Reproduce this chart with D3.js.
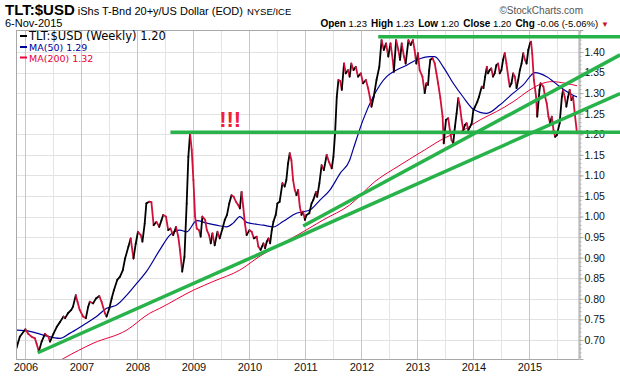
<!DOCTYPE html>
<html>
<head>
<meta charset="utf-8">
<script src="https://cdn.jsdelivr.net/npm/d3@7"></script>
<style>
  body { margin: 0; background: #fff; }
  svg { display: block; font-family: "Liberation Sans", Arial, sans-serif; }
</style>
</head>
<body>
<svg id="chart"></svg>
<script>
// weekly closes, decimal years
const weeks = [
  2005.84, 2005.90, 2006.00, 2006.05, 2006.11, 2006.17, 2006.20, 2006.24, 2006.29, 2006.35, 2006.41, 2006.44, 2006.50,
  2006.56, 2006.62, 2006.68, 2006.71, 2006.76, 2006.82, 2006.85, 2006.90, 2006.93, 2006.97,
  2007.03, 2007.08, 2007.12, 2007.15, 2007.21, 2007.26, 2007.32, 2007.36, 2007.42, 2007.45, 2007.50, 2007.54, 2007.58,
  2007.64, 2007.69, 2007.74, 2007.78, 2007.84, 2007.88, 2007.93, 2007.97,
  2008.01, 2008.06, 2008.09, 2008.13, 2008.16, 2008.21, 2008.25, 2008.29, 2008.34, 2008.39, 2008.43, 2008.46, 2008.51,
  2008.55, 2008.59, 2008.64, 2008.69, 2008.73, 2008.76, 2008.80, 2008.84, 2008.88, 2008.91, 2008.94, 2008.97,
  2009.00, 2009.03, 2009.06, 2009.10, 2009.13, 2009.16, 2009.21, 2009.24, 2009.28, 2009.31, 2009.34, 2009.38, 2009.43,
  2009.47, 2009.52, 2009.56, 2009.60, 2009.64, 2009.68, 2009.72, 2009.76, 2009.80, 2009.83, 2009.86, 2009.89, 2009.92, 2009.95,
  2010.00, 2010.04, 2010.08, 2010.13, 2010.16, 2010.20, 2010.25, 2010.28, 2010.31, 2010.34, 2010.37, 2010.40, 2010.43,
  2010.47, 2010.50, 2010.54, 2010.59, 2010.63, 2010.66, 2010.69, 2010.72, 2010.75, 2010.78, 2010.81, 2010.84, 2010.87,
  2010.90, 2010.93, 2010.96, 2010.99,
  2011.02, 2011.07, 2011.11, 2011.14, 2011.19, 2011.21, 2011.25, 2011.29, 2011.33, 2011.38, 2011.42, 2011.47, 2011.50,
  2011.53, 2011.56, 2011.59, 2011.62, 2011.65, 2011.69, 2011.72, 2011.76, 2011.79, 2011.82, 2011.86, 2011.90, 2011.94, 2011.99,
  2012.03, 2012.08, 2012.12, 2012.15, 2012.18, 2012.22, 2012.27, 2012.32, 2012.36, 2012.40, 2012.44, 2012.48, 2012.52,
  2012.56, 2012.58, 2012.62, 2012.66, 2012.69, 2012.72, 2012.76, 2012.79, 2012.84, 2012.88, 2012.92, 2012.95, 2012.98,
  2013.01, 2013.04, 2013.09, 2013.13, 2013.16, 2013.19, 2013.21, 2013.23, 2013.27, 2013.31, 2013.34, 2013.37, 2013.41,
  2013.45, 2013.47, 2013.51, 2013.55, 2013.58, 2013.61, 2013.64, 2013.67, 2013.70, 2013.73, 2013.76, 2013.79, 2013.82,
  2013.85, 2013.88, 2013.91, 2013.94, 2013.97,
  2014.00, 2014.03, 2014.07, 2014.10, 2014.15, 2014.18, 2014.21, 2014.24, 2014.26, 2014.29, 2014.32, 2014.35, 2014.38,
  2014.41, 2014.44, 2014.47, 2014.50, 2014.53, 2014.56, 2014.59, 2014.63, 2014.65, 2014.68, 2014.71, 2014.74, 2014.77,
  2014.80, 2014.83, 2014.86, 2014.89, 2014.92, 2014.95, 2014.98,
  2015.01, 2015.03, 2015.05, 2015.08, 2015.12, 2015.14, 2015.18, 2015.20, 2015.25, 2015.28, 2015.31, 2015.34, 2015.37,
  2015.40, 2015.43, 2015.46, 2015.49, 2015.54, 2015.58, 2015.60, 2015.63, 2015.66, 2015.69, 2015.72, 2015.75, 2015.78,
  2015.81, 2015.85
];
const closes = [
  0.680, 0.708, 0.726, 0.715, 0.708, 0.704, 0.691, 0.672, 0.696, 0.715, 0.708, 0.696, 0.715,
  0.732, 0.744, 0.757, 0.753, 0.765, 0.773, 0.781, 0.809, 0.793, 0.773,
  0.757, 0.753, 0.780, 0.793, 0.789, 0.801, 0.807, 0.793, 0.765, 0.757, 0.777, 0.801, 0.821,
  0.846, 0.854, 0.870, 0.898, 0.927, 0.947, 0.898, 0.934,
  0.963, 0.955, 0.939, 0.983, 1.032, 1.036, 1.035, 0.979, 0.987, 0.975, 0.991, 1.004, 1.000,
  0.967, 0.971, 0.955, 0.975, 0.951, 0.919, 0.866, 0.902, 1.032, 1.145, 1.202, 1.162,
  1.089, 1.000, 0.971, 0.967, 0.951, 1.000, 0.992, 0.967, 0.955, 0.935, 0.959, 0.930, 0.963,
  0.947, 0.971, 0.992, 1.004, 1.032, 1.052, 1.048, 1.036, 1.028, 1.020, 1.060, 1.024, 0.983, 0.955,
  0.967, 0.963, 0.947, 0.951, 0.927, 0.919, 0.935, 0.923, 0.939, 0.947, 0.935, 0.967, 0.988,
  1.004, 1.032, 1.036, 1.081, 1.073, 1.089, 1.129, 1.154, 1.137, 1.089, 1.065, 1.052, 1.065,
  1.024, 1.004, 1.012, 0.992,
  1.004, 1.008, 1.032, 1.040, 1.060, 1.048, 1.081, 1.125, 1.113, 1.150, 1.133, 1.117, 1.145,
  1.202, 1.291, 1.332, 1.330, 1.308, 1.372, 1.348, 1.356, 1.340, 1.372, 1.356, 1.364, 1.340, 1.348,
  1.324, 1.332, 1.312, 1.291, 1.267, 1.291, 1.332, 1.364, 1.429, 1.405, 1.421, 1.389, 1.421,
  1.381, 1.352, 1.429, 1.405, 1.381, 1.421, 1.389, 1.372, 1.429, 1.417, 1.429, 1.405, 1.372,
  1.397, 1.356, 1.340, 1.300, 1.324, 1.320, 1.356, 1.381, 1.385, 1.372, 1.348, 1.324, 1.288,
  1.243, 1.178, 1.235, 1.239, 1.210, 1.186, 1.178, 1.218, 1.251, 1.288, 1.267, 1.235, 1.210,
  1.223, 1.227, 1.210, 1.218, 1.227,
  1.259, 1.267, 1.279, 1.291, 1.316, 1.312, 1.340, 1.364, 1.348, 1.356, 1.360, 1.340, 1.348,
  1.368, 1.372, 1.348, 1.356, 1.381, 1.397, 1.372, 1.332, 1.316, 1.324, 1.348, 1.340, 1.312,
  1.332, 1.356, 1.372, 1.397, 1.381, 1.372, 1.405,
  1.421, 1.425, 1.397, 1.332, 1.291, 1.243, 1.308, 1.324, 1.316, 1.291, 1.275, 1.243, 1.227,
  1.243, 1.210, 1.194, 1.198, 1.227, 1.291, 1.308, 1.291, 1.267, 1.291, 1.308, 1.283, 1.291,
  1.251, 1.202
];

// moving averages as drawn on the chart
const ma50Weeks = [2005.84, 2006.08, 2006.32, 2006.62, 2006.79, 2007.03, 2007.27, 2007.45, 2007.63, 2007.81, 2007.99,
  2008.16, 2008.40, 2008.58, 2008.76, 2008.88, 2009.06, 2009.24, 2009.41, 2009.59, 2009.71, 2009.83, 2009.95,
  2010.25, 2010.43, 2010.60, 2010.84, 2011.08, 2011.26, 2011.44, 2011.62, 2011.79, 2011.85, 2012.03, 2012.21,
  2012.45, 2012.57, 2012.81, 2012.99, 2013.22, 2013.31, 2013.46, 2013.64, 2013.82, 2014.00, 2014.24, 2014.47,
  2014.71, 2014.89, 2015.10, 2015.31, 2015.54, 2015.78, 2015.85];
const ma50Values = [0.724, 0.721, 0.712, 0.704, 0.716, 0.736, 0.757, 0.777, 0.785, 0.809, 0.838,
  0.866, 0.919, 0.955, 0.967, 0.963, 0.990, 0.984, 0.979, 0.975, 0.984, 1.000, 0.986,
  0.979, 0.975, 0.988, 1.008, 1.016, 1.040, 1.065, 1.105, 1.137, 1.162, 1.235, 1.291,
  1.340, 1.352, 1.368, 1.381, 1.389, 1.389, 1.364, 1.324, 1.290, 1.261, 1.251, 1.271,
  1.300, 1.320, 1.350, 1.340, 1.316, 1.295, 1.291];

const ma200Weeks = [2006.55, 2006.68, 2007.21, 2007.81, 2008.22, 2008.40, 2009.00, 2009.35, 2009.83, 2010.19, 2010.54,
  2010.96, 2011.32, 2011.79, 2012.24, 2012.69, 2013.13, 2013.50, 2013.82, 2014.12, 2014.41, 2014.71, 2015.01,
  2015.24, 2015.40, 2015.64, 2015.85];
const ma200Values = [0.645, 0.655, 0.692, 0.724, 0.765, 0.777, 0.821, 0.842, 0.870, 0.904, 0.931,
  0.963, 0.992, 1.028, 1.085, 1.125, 1.162, 1.192, 1.210, 1.235, 1.255, 1.279, 1.308,
  1.324, 1.328, 1.324, 1.318];

// hand-drawn trend lines: [year, price] end points
const trendTop = [[2012.30, 1.437], [2016.62, 1.437]];
const trendFlat = [[2008.59, 1.205], [2016.62, 1.205]];
const trendLow = [[2006.22, 0.669], [2016.62, 1.299]];
const trendHigh = [[2010.96, 0.977], [2016.62, 1.393]];

const yearTicks = [2006, 2007, 2008, 2009, 2010, 2011, 2012, 2013, 2014, 2015];
const priceTicks = [0.70, 0.75, 0.80, 0.85, 0.90, 0.95, 1.00, 1.05, 1.10, 1.15, 1.20, 1.25, 1.30, 1.35, 1.40];
const legendLabels = ['TLT:$USD (Weekly) 1.20', 'MA(50) 1.29', 'MA(200) 1.32'];
const quote = [['Open', '1.23'], ['High', '1.23'], ['Low', '1.20'], ['Close', '1.20'], ['Chg', '-0.06 (-5.06%)']];

class TrendChart {
    constructor(_config) {
        this.config = {
            parentElement: _config.parentElement,
            containerWidth: 620,
            containerHeight: 376,
            margin: { top: 30, right: 41, bottom: 17, left: 17 }
        };
        this.initVis();
    }

    initVis() {
        let vis = this;

        vis.width = vis.config.containerWidth - vis.config.margin.left - vis.config.margin.right;
        vis.height = vis.config.containerHeight - vis.config.margin.top - vis.config.margin.bottom;

        // 56px per year, 1.40 sits 22px below the top
        vis.xScale = d3.scaleLinear()
            .domain([2005.85, 2005.85 + vis.width / 56])
            .range([0, vis.width]);

        vis.yScale = d3.scaleLinear()
            .domain([1.40 - (vis.height - 22) / 411.4, 1.40 + 22 / 411.4])
            .range([vis.height, 0]);

        vis.svg = d3.select(vis.config.parentElement)
            .attr('width', vis.config.containerWidth)
            .attr('height', vis.config.containerHeight);

        vis.svg.append('defs').append('clipPath')
            .attr('id', 'plot-clip')
            .append('rect')
            .attr('width', vis.width)
            .attr('height', vis.height);

        vis.chart = vis.svg.append('g')
            .attr('transform', `translate(${vis.config.margin.left},${vis.config.margin.top})`);

        vis.renderVis();
    }

    renderVis() {
        let vis = this;
        const x = vis.xScale, y = vis.yScale;

        // grid
        const grid = vis.chart.append('g').attr('class', 'grid');
        grid.selectAll('.hgrid')
            .data(priceTicks)
            .join('line')
            .attr('class', 'hgrid')
            .attr('x1', 0).attr('x2', vis.width)
            .attr('y1', d => Math.round(y(d)) + 0.5).attr('y2', d => Math.round(y(d)) + 0.5)
            .attr('stroke', '#e2e2e2');
        grid.selectAll('.halfyear')
            .data(yearTicks.map(d => d - 0.5).concat([2015.5]))
            .join('line')
            .attr('class', 'halfyear')
            .attr('x1', d => Math.round(x(d)) + 0.5).attr('x2', d => Math.round(x(d)) + 0.5)
            .attr('y1', 0).attr('y2', vis.height)
            .attr('stroke', '#e4e4e4');
        grid.selectAll('.vgrid')
            .data(yearTicks)
            .join('line')
            .attr('class', 'vgrid')
            .attr('x1', d => Math.round(x(d)) + 0.5).attr('x2', d => Math.round(x(d)) + 0.5)
            .attr('y1', 0).attr('y2', vis.height)
            .attr('stroke', '#c6c6c6');

        const plot = vis.chart.append('g').attr('clip-path', 'url(#plot-clip)');

        const maLine = d3.line()
            .x(d => x(d[0]))
            .y(d => y(d[1]))
            .curve(d3.curveMonotoneX);

        plot.append('path')
            .attr('d', maLine(d3.zip(ma200Weeks, ma200Values)))
            .attr('fill', 'none')
            .attr('stroke', '#e8003a')
            .attr('stroke-width', 1);

        plot.append('path')
            .attr('d', maLine(d3.zip(ma50Weeks, ma50Values)))
            .attr('fill', 'none')
            .attr('stroke', '#000099')
            .attr('stroke-width', 1.2);

        // price, black on up weeks, red on down weeks
        const segments = d3.range(1, weeks.length).map(i => ({
            x0: weeks[i - 1], y0: closes[i - 1], x1: weeks[i], y1: closes[i]
        }));
        plot.selectAll('.price')
            .data(segments)
            .join('line')
            .attr('class', 'price')
            .attr('x1', d => x(d.x0)).attr('y1', d => y(d.y0))
            .attr('x2', d => x(d.x1)).attr('y2', d => y(d.y1))
            .attr('stroke', d => d.y1 >= d.y0 ? '#000' : '#d0103a')
            .attr('stroke-width', 1.8)
            .attr('stroke-linecap', 'round');

        // frame
        vis.chart.append('rect')
            .attr('x', -0.5).attr('y', 0.5)
            .attr('width', vis.width + 0.5).attr('height', vis.height)
            .attr('fill', 'none')
            .attr('stroke', '#a8a8a8');

        // axes
        vis.yAxisMinor = d3.axisRight(y)
            .tickValues(d3.range(66, 146).map(d => d / 100))
            .tickSize(2)
            .tickFormat('');
        vis.yAxis = d3.axisRight(y)
            .tickValues(priceTicks)
            .tickSize(4)
            .tickPadding(1)
            .tickFormat(d3.format('.2f'));
        vis.xAxis = d3.axisBottom(x)
            .tickValues(yearTicks)
            .tickSize(0)
            .tickPadding(4)
            .tickFormat(d3.format('d'));

        const yMinorG = vis.chart.append('g')
            .attr('transform', `translate(${vis.width + 0.5},0)`)
            .call(vis.yAxisMinor);
        yMinorG.select('.domain').remove();
        yMinorG.selectAll('line').attr('stroke', '#b0b0b0');

        const yAxisG = vis.chart.append('g')
            .attr('transform', `translate(${vis.width + 0.5},0)`)
            .call(vis.yAxis);
        yAxisG.select('.domain').attr('stroke', '#a8a8a8');
        yAxisG.selectAll('line').attr('stroke', '#a8a8a8');
        yAxisG.selectAll('text')
            .style('font-family', '"Liberation Sans", Arial, sans-serif')
            .style('font-size', '10.5px')
            .attr('fill', '#111');

        const xAxisG = vis.chart.append('g')
            .attr('transform', `translate(0,${vis.height})`)
            .call(vis.xAxis);
        xAxisG.select('.domain').remove();
        xAxisG.selectAll('text')
            .style('font-family', '"Liberation Sans", Arial, sans-serif')
            .style('font-size', '11px')
            .attr('fill', '#111');

        // trend lines drawn over everything
        const trend = d3.line().x(d => x(d[0])).y(d => y(d[1]));
        vis.chart.selectAll('.trend')
            .data([trendTop, trendFlat, trendLow, trendHigh])
            .join('path')
            .attr('class', 'trend')
            .attr('d', trend)
            .attr('fill', 'none')
            .attr('stroke', '#27b24a')
            .attr('stroke-width', 3.5);

        vis.chart.append('text')
            .attr('x', x(2009.46))
            .attr('y', y(1.218))
            .text('!!!')
            .attr('fill', '#f0203c')
            .style('font-size', '22px')
            .style('font-weight', 'bold');

        // legend
        const legendColors = ['#000', '#000099', '#e8003a'];
        const legendSizes = ['11.5px', '9.5px', '9.5px'];
        const legendRows = [10, 21, 31.5];
        const legend = vis.chart.append('g').attr('transform', 'translate(3,0)');
        legend.selectAll('.swatch')
            .data(legendLabels)
            .join('line')
            .attr('class', 'swatch')
            .attr('x1', 0).attr('x2', 7)
            .attr('y1', (d, i) => legendRows[i] - 4).attr('y2', (d, i) => legendRows[i] - 4)
            .attr('stroke', (d, i) => legendColors[i])
            .attr('stroke-width', 2);
        legend.selectAll('.label')
            .data(legendLabels)
            .join('text')
            .attr('class', 'label')
            .attr('x', 9)
            .attr('y', (d, i) => legendRows[i])
            .text(d => d)
            .attr('fill', (d, i) => legendColors[i])
            .style('font-family', '"DejaVu Sans", Verdana, sans-serif')
            .style('font-size', (d, i) => legendSizes[i]);

        // header
        const title = vis.svg.append('text').attr('x', 5).attr('y', 15);
        title.append('tspan').text('TLT:$USD')
            .style('font-weight', 'bold').style('font-size', '15px');
        title.append('tspan').text('iShs T-Bnd 20+y/US Dollar (EOD)')
            .attr('dx', 3).style('font-size', '11px');
        title.append('tspan').text('NYSE/ICE')
            .attr('dx', 4).style('font-size', '9.5px');

        vis.svg.append('text')
            .attr('x', 583).attr('y', 14)
            .attr('text-anchor', 'end')
            .attr('fill', '#555')
            .style('font-size', '10px')
            .text('\u00a9StockCharts.com');

        vis.svg.append('text')
            .attr('x', 5).attr('y', 27)
            .style('font-size', '11px')
            .text('6-Nov-2015');

        const q = vis.svg.append('text')
            .attr('x', 609).attr('y', 27)
            .attr('text-anchor', 'end');
        quote.forEach((d, i) => {
            q.append('tspan').text(d[0])
                .attr('dx', i ? 4 : 0)
                .style('font-weight', 'bold').style('font-size', '10px');
            q.append('tspan').text(d[1])
                .attr('dx', 2.5)
                .style('font-size', '9.5px');
        });
        q.append('tspan').text('\u25bc')
            .attr('dx', 3)
            .attr('fill', '#c8102e')
            .style('font-size', '8px');
    }
}

new TrendChart({ parentElement: '#chart' });
</script>
</body>
</html>
